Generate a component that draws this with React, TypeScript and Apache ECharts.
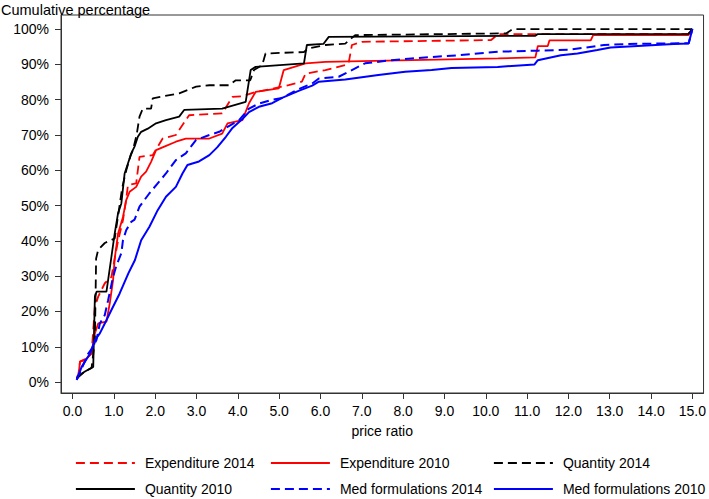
import React, { useEffect, useRef } from "react";
import * as echarts from "echarts";

const xTicks = [0, 1, 2, 3, 4, 5, 6, 7, 8, 9, 10, 11, 12, 13, 14, 15];
const yTicks = [0, 10, 20, 30, 40, 50, 60, 70, 80, 90, 100];

const seriesNames = [
  "Expenditure 2014",
  "Expenditure 2010",
  "Quantity 2014",
  "Quantity 2010",
  "Med formulations 2014",
  "Med formulations 2010",
];

const expenditure2014: [number, number][] = [
  [0.1, 1], [0.14, 2], [0.18, 5.8], [0.34, 6.7], [0.46, 8.1], [0.54, 21.3], [0.62, 24.2],
  [0.78, 28], [0.94, 29.8], [1.02, 35], [1.1, 40], [1.22, 45.9], [1.3, 52], [1.34, 55.8],
  [1.54, 56.3], [1.62, 63.8], [1.94, 64.3], [2.18, 69], [2.5, 70], [2.82, 75.6], [3.62, 76.1],
  [3.87, 80.8], [4.11, 81], [4.43, 82.2], [4.67, 82.7], [5.23, 84.1], [5.55, 85.1], [5.64, 87.4],
  [6.12, 88.4], [6.6, 89.8], [6.68, 90.3], [6.76, 95.5], [7.0, 96.4], [10.13, 96.9], [10.3, 98.6],
  [14.9, 98.6], [15, 100],
];

const expenditure2010: [number, number][] = [
  [0.1, 1], [0.14, 1.5], [0.18, 5.8], [0.3, 6.2], [0.46, 8.1], [0.54, 13.8], [0.62, 16.6],
  [0.82, 17.1], [0.9, 22.3], [0.98, 28.9], [1.02, 35], [1.1, 42], [1.22, 46.8], [1.3, 51.6],
  [1.38, 53.9], [1.54, 55.3], [1.66, 58.2], [1.78, 59.6], [1.9, 62.4], [2.02, 65.7], [2.22, 66.7],
  [2.5, 68.1], [2.74, 69], [3.31, 69], [3.62, 70.4], [3.75, 73.3], [4.11, 74.2], [4.27, 79],
  [4.43, 82.2], [4.99, 83.2], [5.11, 88.4], [5.64, 90.3], [6.12, 90.7], [10.3, 91.7], [11.2, 92],
  [11.26, 95.2], [11.5, 95.2], [11.54, 96.8], [12.54, 96.8], [12.6, 98.3], [14.9, 98.3], [15, 100],
];

const quantity2014: [number, number][] = [
  [0.1, 1], [0.3, 3], [0.46, 4], [0.54, 11.9], [0.57, 35], [0.62, 37.5], [0.78, 39.4],
  [1.02, 40.7], [1.1, 47], [1.2, 55], [1.3, 60], [1.4, 64], [1.46, 65.7], [1.55, 70],
  [1.62, 75.2], [1.7, 77.5], [1.9, 77.5], [1.94, 80.4], [2.58, 81.8], [2.99, 83.7], [3.31, 84.1],
  [3.79, 84.1], [3.95, 85.5], [4.3, 85.5], [4.39, 88.4], [4.59, 89.8], [4.67, 93.1], [5.6, 93.5],
  [5.7, 94.5], [6.12, 95.5], [6.6, 95.9], [6.84, 98.3], [10.5, 98.8], [10.65, 100], [15, 100],
];

const quantity2010: [number, number][] = [
  [0.1, 1.5], [0.3, 3], [0.5, 4.3], [0.54, 24.2], [0.58, 25.6], [0.82, 25.6], [0.86, 28.9],
  [0.94, 35.5], [1.02, 42.1], [1.1, 47.8], [1.18, 50.6], [1.26, 59.1], [1.34, 61.9], [1.42, 64.8],
  [1.5, 66.7], [1.58, 69.5], [1.66, 70.9], [1.82, 71.8], [2.02, 73.3], [2.26, 74.2], [2.58, 75.2],
  [2.7, 77.1], [3.62, 77.5], [4.19, 79.4], [4.31, 88.4], [4.43, 89.3], [5.6, 90.3], [5.67, 95.5],
  [6.07, 95.8], [6.2, 97.8], [11.2, 98.1], [11.26, 98.6], [14.9, 98.6], [15, 100],
];

const medFormulations2014: [number, number][] = [
  [0.1, 0.6], [0.38, 8.1], [0.5, 10], [0.58, 12], [0.66, 16.6], [0.78, 19], [0.86, 23.2],
  [0.98, 29.8], [1.06, 33], [1.18, 36.5], [1.22, 40.2], [1.3, 43.1], [1.42, 45.4], [1.5, 46],
  [1.62, 49.7], [1.86, 53.5], [2.06, 56.3], [2.26, 59.1], [2.5, 62.9], [2.74, 64.8], [2.99, 68.6],
  [3.31, 70], [3.55, 70.9], [4.03, 74.2], [4.27, 77.5], [4.51, 78.9], [4.83, 80], [5.07, 80.5],
  [5.47, 83], [5.8, 84.6], [5.96, 86], [6.44, 86.5], [6.76, 88.4], [7.08, 90.3], [7.72, 91.2],
  [8.2, 91.7], [9.33, 92.6], [9.8, 93.1], [10.29, 93.6], [11.26, 93.9], [12.06, 94.2],
  [12.86, 95.5], [13.43, 95.8], [14.91, 96], [15, 100],
];

const medFormulations2010: [number, number][] = [
  [0.1, 0.6], [0.22, 4.3], [0.42, 8], [0.54, 11.9], [0.66, 13.8], [0.78, 16.6], [0.94, 20.4],
  [1.14, 25.1], [1.35, 30.8], [1.51, 34.6], [1.66, 40.2], [1.86, 44], [2.06, 48.7], [2.26, 52.5],
  [2.5, 55.3], [2.66, 59.1], [2.78, 61.5], [3.06, 62.5], [3.31, 64.3], [3.5, 66.5], [3.71, 69.5],
  [3.87, 72], [4.11, 74.5], [4.27, 76.5], [4.51, 78], [4.83, 79], [5.07, 80.5], [5.47, 82.5],
  [5.8, 84], [5.96, 85.1], [6.6, 85.7], [7.4, 87], [8.05, 87.9], [8.69, 88.4], [9.17, 89],
  [10.29, 89.3], [11.18, 90], [11.26, 91.2], [11.82, 92.6], [12.22, 93.1], [12.7, 94.1],
  [13.02, 94.8], [14.55, 95.8], [14.91, 95.9], [15, 100],
];

const FONT = "'Liberation Sans', Arial, sans-serif";

export default function App() {
  const ref = useRef<HTMLDivElement>(null);

  useEffect(() => {
    if (!ref.current) return;
    const chart = echarts.init(ref.current, null, { renderer: "svg" });

    const dash = [9, 5];
    const mk = (name: string, data: [number, number][], color: string, dashed: boolean, width: number) => ({
      name,
      type: "line",
      data,
      symbol: "none",
      showSymbol: false,
      lineStyle: { color, width, type: dashed ? dash : "solid" },
      itemStyle: { color },
      z: 3,
    });

    const legendBase = {
      orient: "vertical",
      padding: 0,
      itemWidth: 59,
      itemHeight: 14,
      itemGap: 12,
      itemStyle: { opacity: 0, color: "transparent", borderColor: "transparent", borderWidth: 0 },
      lineStyle: { width: 1.8 },
      textStyle: { fontFamily: FONT, fontSize: 14, color: "#000", padding: [0, 0, 0, 5] },
    };

    chart.setOption({
      animation: false,
      backgroundColor: "#fff",
      title: {
        text: "Cumulative percentage",
        left: -4,
        top: -3,
        textStyle: { fontFamily: FONT, fontSize: 14.5, fontWeight: "normal", color: "#000" },
      },
      grid: {
        left: 61,
        top: 15,
        right: 2,
        bottom: 106,
        show: true,
        borderColor: "#333",
        borderWidth: 1,
        backgroundColor: "transparent",
      },
      legend: [
        { ...legendBase, left: 75, top: 456, data: [seriesNames[0], seriesNames[3]] },
        { ...legendBase, left: 270, top: 456, data: [seriesNames[1], seriesNames[4]] },
        { ...legendBase, left: 493, top: 456, data: [seriesNames[2], seriesNames[5]] },
      ],
      xAxis: {
        type: "value",
        min: -0.28,
        max: 15.27,
        name: "price ratio",
        nameLocation: "middle",
        nameGap: 31,
        nameTextStyle: { fontFamily: FONT, fontSize: 14, color: "#000" },
        axisLine: { show: true, onZero: false, lineStyle: { color: "#333", width: 1 } },
        axisTick: { show: true, length: 6, lineStyle: { color: "#333" }, customValues: xTicks },
        axisLabel: {
          customValues: xTicks,
          margin: 11,
          fontFamily: FONT,
          fontSize: 14,
          color: "#000",
          formatter: (v: number) => v.toFixed(1),
        },
        splitLine: { show: false },
      },
      yAxis: {
        type: "value",
        min: -3.1,
        max: 104,
        axisLine: { show: true, onZero: false, lineStyle: { color: "#333", width: 1 } },
        axisTick: { show: true, length: 6, lineStyle: { color: "#333" }, customValues: yTicks },
        axisLabel: {
          customValues: yTicks,
          margin: 12,
          fontFamily: FONT,
          fontSize: 14,
          color: "#000",
          formatter: (v: number) => `${Math.round(v)}%`,
        },
        splitLine: { show: false },
      },
      series: [
        mk(seriesNames[0], expenditure2014, "#ff0000", true, 1.8),
        mk(seriesNames[1], expenditure2010, "#ff0000", false, 1.8),
        mk(seriesNames[2], quantity2014, "#000000", true, 1.8),
        mk(seriesNames[3], quantity2010, "#000000", false, 1.8),
        mk(seriesNames[4], medFormulations2014, "#0000ff", true, 2),
        mk(seriesNames[5], medFormulations2010, "#0000ff", false, 2),
      ],
    });

    return () => chart.dispose();
  }, []);

  return (
    <div
      ref={ref}
      style={{ position: "fixed", left: 0, top: 0, width: 709, height: 499, background: "#fff" }}
    />
  );
}
